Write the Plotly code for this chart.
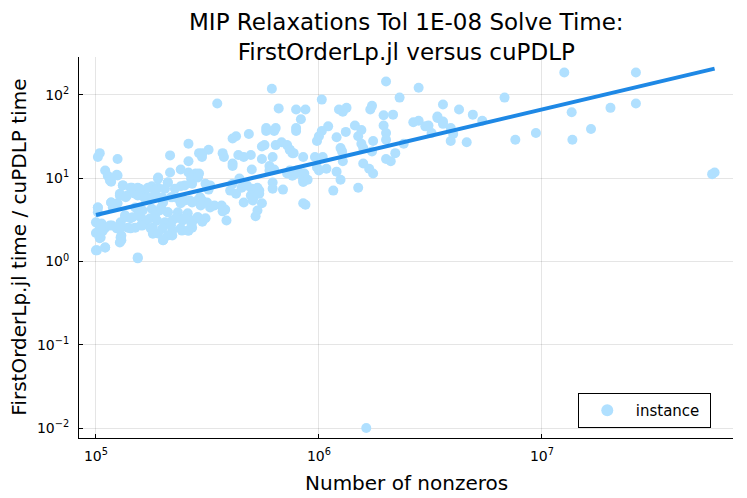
import plotly.graph_objects as go

# Instance data: number of nonzeros and FirstOrderLp.jl / cuPDLP solve time ratio
nnz = [
    1.04e5, 1.02e5, 1.25e5, 1.10e5, 1.13e5, 1.17e5, 1.24e5, 2.15e5, 2.60e5, 2.90e5,
    2.15e5, 2.40e5, 1.90e5, 2.10e5, 2.40e5, 2.70e5, 2.80e5, 1.32e5, 1.45e5, 1.54e5,
    1.66e5, 1.78e5, 1.90e5, 2.04e5, 1.28e5, 1.38e5, 1.50e5, 1.60e5, 1.70e5, 1.84e5,
    1.98e5, 1.17e5, 1.25e5, 1.19e5, 1.02e5, 1.02e5, 2.20e5, 2.33e5, 2.50e5, 2.70e5,
    2.85e5, 1.50e5, 1.62e5, 1.78e5, 1.93e5, 2.10e5, 2.33e5, 2.58e5, 1.35e5, 1.46e5,
    1.60e5, 1.75e5, 1.88e5, 2.04e5, 2.20e5, 2.45e5, 2.70e5, 2.87e5, 1.00e5, 1.06e5,
    1.04e5, 1.10e5, 1.18e5, 1.24e5, 1.39e5, 1.50e5, 1.62e5, 1.80e5, 1.99e5, 2.20e5,
    2.43e5, 2.70e5, 1.00e5, 1.30e5, 1.80e5, 2.00e5, 2.20e5, 1.04e5, 1.30e5, 1.01e5,
    1.10e5, 1.54e5,
    4.25e5, 4.10e5, 4.85e5, 5.80e5, 6.30e5, 7.90e5, 2.60e5, 3.00e5, 3.20e5, 2.99e5,
    3.70e5, 3.75e5, 4.10e5, 4.10e5, 4.35e5, 4.60e5, 4.95e5, 5.55e5, 5.70e5, 6.40e5,
    6.80e5, 7.20e5, 7.40e5, 7.70e5, 5.55e5, 6.20e5, 5.00e5, 6.00e5, 6.00e5, 6.30e5,
    7.20e5, 7.60e5, 8.00e5, 8.50e5, 6.20e5, 6.20e5, 6.90e5, 8.50e5, 8.50e5, 2.60e5,
    2.70e5, 2.90e5, 3.10e5, 3.25e5, 3.20e5, 4.40e5, 4.10e5, 4.00e5, 4.25e5, 4.50e5,
    4.75e5, 5.00e5, 5.30e5, 5.40e5, 4.95e5, 5.10e5, 5.40e5, 4.60e5, 5.05e5, 5.55e5,
    5.30e5, 5.20e5, 3.66e5, 3.80e5, 3.70e5, 3.40e5, 3.25e5, 3.00e5, 2.93e5, 3.15e5,
    3.85e5, 2.85e5, 3.00e5, 2.70e5, 2.60e5, 8.50e5,
    2.00e6, 2.80e6, 2.30e6, 1.03e6, 7.90e5, 8.70e5, 8.30e5, 7.90e5, 1.23e6, 1.28e6,
    1.33e6, 1.73e6, 1.70e6, 1.95e6, 2.15e6, 2.65e6, 2.80e6, 3.00e6, 3.40e6, 3.20e6,
    1.95e6, 2.00e6, 1.45e6, 1.55e6, 1.32e6, 1.10e6, 1.03e6, 1.00e6, 0.98e6, 1.20e6,
    1.50e6, 1.55e6, 1.58e6, 1.75e6, 1.73e6, 2.00e6, 2.40e6, 1.25e6, 1.27e6, 1.28e6,
    2.00e6, 2.10e6, 2.20e6, 1.58e6, 1.68e6, 1.75e6, 1.20e6, 1.25e6, 1.16e6, 1.50e6,
    8.70e5, 9.60e5, 1.04e6, 0.98e6, 1.00e6, 1.08e6, 8.50e5, 7.60e5, 7.40e5, 7.90e5,
    8.60e5, 8.50e5, 8.90e5, 7.40e5,
    6.15e5, 3.50e5, 6.60e5, 5.80e5, 6.40e5,
    3.60e6, 4.25e6, 3.40e6, 3.60e6, 3.60e6, 4.90e6, 5.40e6, 3.10e6, 3.90e6, 4.00e6,
    3.90e6, 4.60e6, 7.60e6, 9.40e6, 6.80e6,
    1.26e7, 2.64e7, 1.36e7, 1.37e7, 1.66e7, 2.03e7, 2.64e7, 5.80e7, 5.95e7,
    1.63e6,
    1.155e5, 1.25e5, 1.32e5, 1.43e5, 1.57e5, 1.71e5, 1.84e5, 1.90e5, 2.10e5, 2.26e5,
    2.50e5, 2.67e5, 2.87e5, 1.17e5, 1.28e5, 1.36e5, 1.54e5, 1.66e5, 1.84e5, 2.00e5,
    2.17e5, 2.40e5, 2.64e5, 2.95e5, 1.02e5, 1.04e5, 1.02e5, 1.075e5, 1.155e5, 1.29e5,
    1.35e5, 1.43e5, 1.54e5, 1.68e5, 1.84e5, 1.96e5, 2.10e5, 2.28e5, 2.50e5, 2.67e5,
    2.87e5, 3.10e5, 1.29e5, 1.43e5, 1.59e5, 1.76e5, 1.90e5, 2.10e5, 2.17e5, 2.40e5,
    2.59e5, 1.29e5, 1.28e5, 1.05e5, 1.00e5, 1.10e5, 1.54e5, 2.00e5,
]
ratio = [
    20, 18, 17, 12.4, 10.7, 9.1, 11, 18.8, 16, 20,
    11.7, 12.7, 10.2, 8.9, 8, 8.6, 11.4, 8.2, 7.7, 7.7,
    7.1, 8, 7.7, 7.5, 6.5, 6.2, 6.5, 6.2, 5.9, 6.5,
    5.9, 5.1, 5.0, 4.45, 4.45, 3.9, 5.9, 5.7, 5.4, 5.1,
    5.4, 4.45, 4.1, 4.3, 4.1, 3.9, 3.9, 3.8, 3.6, 3.4,
    3.3, 3.3, 3.1, 2.95, 3.1, 3.1, 2.95, 3.3, 2.95, 2.85,
    2.5, 2.55, 2.7, 2.5, 2.55, 2.55, 2.7, 2.55, 2.5, 2.35,
    2.35, 2.55, 2.2, 2.05, 2.15, 1.8, 2.05, 1.9, 1.8, 1.36,
    1.47, 1.09,
    32, 30, 34, 37, 37, 37, 26, 20, 22, 18,
    20, 18, 15, 14, 19, 18, 19, 24, 25, 25,
    27, 25, 22, 20, 17, 18, 12.7, 14, 12.4, 12.7,
    11.4, 10.7, 12.4, 11.4, 8.9, 7.5, 7.3, 10, 9, 11.7,
    10.7, 11.4, 8.6, 8.2, 7.3, 9.9, 8.6, 7.1, 6.5, 7.7,
    8.2, 7.5, 7.7, 7.1, 6.2, 5.9, 6.5, 5.1, 5.4, 5.0,
    4.1, 3.5, 4.7, 4.2, 4.0, 4.7, 4.45, 5.4, 5.9, 5.1,
    3.1, 3.4, 3.0, 3.1, 2.35, 5.0,
    145, 122, 93, 88, 67, 67, 51, 40, 67, 63,
    70, 74, 67, 57, 58, 47, 49, 42, 53, 35,
    43, 35, 43, 38, 36, 42, 37, 32, 28, 31,
    32, 26, 23, 28, 21, 29, 26, 23, 21, 16,
    17, 16, 20, 15, 13, 11.4, 12, 9.6, 7.1, 7.7,
    4.8, 18, 18, 13.5, 12.4, 13, 18, 20, 22, 11.4,
    11.4, 9.4, 9.6, 12.4,
    119, 79, 69, 40, 40,
    77, 67, 55, 48, 45, 58, 49, 43, 40, 34,
    28, 27, 29, 35, 93,
    186, 186, 62, 29, 39, 70, 79, 11.2, 11.7,
    0.01,
    9.4, 10.8, 8.2, 7.7, 7.5, 7.7, 7.1, 9.9, 8.9, 7.5,
    8.2, 9.9, 10.2, 5.1, 6.2, 5.9, 6.2, 5.7, 5.9, 5.1,
    5.9, 5.0, 5.4, 4.7, 4.45, 2.7, 2.17, 2.35, 2.7, 2.95,
    3.4, 3.3, 3.6, 3.1, 3.6, 4.45, 3.9, 3.3, 3.3, 2.95,
    3.4, 3.3, 2.55, 2.5, 2.7, 2.5, 2.17, 2.05, 2.7, 2.5,
    2.35, 1.94, 1.69, 1.94, 1.36, 1.47, 1.12, 1.8,
]

# Log-log trend line end points
trend_nnz = [1.0e5, 5.95e7]
trend_ratio = [3.62, 207]

x_tick_vals = [1e5, 1e6, 1e7]
x_tick_text = ["10<sup>5</sup>", "10<sup>6</sup>", "10<sup>7</sup>"]
y_tick_vals = [1e-2, 1e-1, 1e0, 1e1, 1e2]
y_tick_text = ["10<sup>−2</sup>", "10<sup>−1</sup>", "10<sup>0</sup>", "10<sup>1</sup>", "10<sup>2</sup>"]

title_lines = ["MIP Relaxations Tol 1E-08 Solve Time:", "FirstOrderLp.jl versus cuPDLP"]
x_label = "Number of nonzeros"
y_label = "FirstOrderLp.jl time / cuPDLP time"
legend_name = "instance&nbsp;"

FONT = "DejaVu Sans"

fig = go.Figure()
fig.add_trace(go.Scatter(
    x=nnz, y=ratio, mode="markers", name=legend_name,
    marker=dict(size=10, color="rgb(176,224,255)", line=dict(width=0)),
))
fig.add_trace(go.Scatter(
    x=trend_nnz, y=trend_ratio, mode="lines", showlegend=False,
    line=dict(color="#1E88E5", width=4),
))

axis_common = dict(
    type="log",
    showgrid=True, gridcolor="rgba(0,0,0,0.1)", gridwidth=1,
    showline=True, linecolor="black", linewidth=1,
    ticks="inside", ticklen=4, tickcolor="black",
    zeroline=False, mirror=False, automargin=False,
    tickfont=dict(size=14, family=FONT),
)

# The page body has an 8px margin, so the figure is 8px smaller than the window
fig.update_layout(
    width=739, height=490,
    margin=dict(l=71, r=14, t=49, b=60),
    paper_bgcolor="white", plot_bgcolor="white",
    font=dict(family=FONT, color="black"),
    xaxis=dict(range=[4.924, 7.857], tickvals=x_tick_vals, ticktext=x_tick_text,
               ticklabelstandoff=5, **axis_common),
    yaxis=dict(range=[-2.12, 2.456], tickvals=y_tick_vals, ticktext=y_tick_text,
               ticklabelstandoff=6, **axis_common),
    legend=dict(
        x=0.966, xanchor="right", y=0.026, yanchor="bottom",
        bgcolor="white", bordercolor="black", borderwidth=1,
        font=dict(size=15, family=FONT),
        itemsizing="constant", itemwidth=47,
    ),
    annotations=[
        dict(text="<br>".join(title_lines), x=0.5, y=1.1286, xref="paper", yref="paper",
             borderpad=0, align="center",
             xanchor="center", yanchor="top", showarrow=False, font=dict(size=23, family=FONT)),
        dict(text=x_label, x=0.5, y=-0.118, xref="paper", yref="paper",
             xanchor="center", yanchor="middle", showarrow=False, font=dict(size=20, family=FONT)),
        dict(text=y_label, x=-0.093, y=0.5, xref="paper", yref="paper", textangle=-90,
             xanchor="center", yanchor="middle", showarrow=False, font=dict(size=20, family=FONT)),
    ],
)

fig.write_html("out.html")
